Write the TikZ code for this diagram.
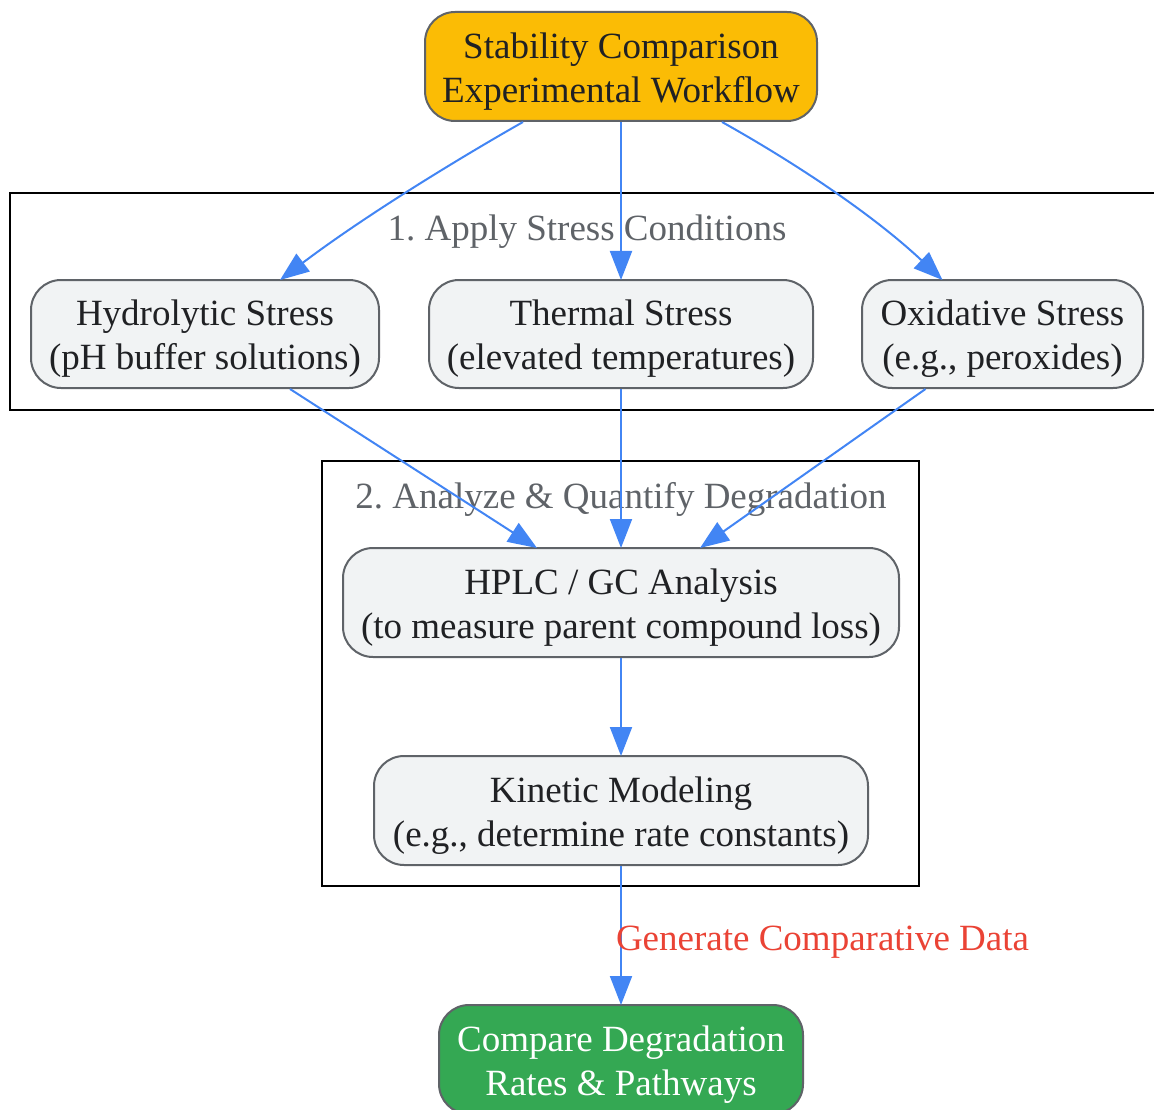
\documentclass[tikz,border=0pt]{standalone}
\usepackage{fontspec}
\setmainfont{Liberation Serif}
\usetikzlibrary{arrows.meta}
\definecolor{edgeblue}{HTML}{4285F4}
\definecolor{nodegray}{HTML}{F1F3F4}
\definecolor{bordergray}{HTML}{5F6368}
\definecolor{textdark}{HTML}{202124}
\definecolor{topyellow}{HTML}{FBBC05}
\definecolor{endgreen}{HTML}{34A853}
\definecolor{labelred}{HTML}{EA4335}
\tikzset{
  box/.style={draw=bordergray, line width=2pt, rounded corners=30pt, fill=nodegray,
    inner sep=0pt},
  boxtext/.style={text=textdark, align=center, inner sep=0pt, font=\fontsize{37}{44}\selectfont},
  cluster/.style={draw=black, line width=2.5pt},
  clabel/.style={text=bordergray, font=\fontsize{37}{44}\selectfont, inner sep=0pt},
  flow/.style={draw=edgeblue, line width=2pt, -{Triangle[length=29pt,width=22pt]}},
}
\begin{document}
\frenchspacing
\begin{tikzpicture}[x=1pt,y=-1pt]
\useasboundingbox (0,0) rectangle (1154,1110);
\clip (0,0) rectangle (1154,1110);
% clusters
\draw[cluster] (10,193) rectangle (1166,410);
\node[clabel] (c1) at (587,232) {1. Apply Stress Conditions};
\draw[cluster] (322,461) rectangle (919,886);
\node[clabel] (c2) at (621,499) {2. Analyze \& Quantify Degradation};
% nodes
\node[box, fill=topyellow, minimum width=392pt, minimum height=109pt] (top) at (621,66.5) {};
\node[boxtext] (topt) at ([yshift=-5pt]top.center) {Stability Comparison\\Experimental Workflow};
\node[box, minimum width=348pt, minimum height=108pt] (hyd) at (205,334) {};
\node[boxtext] (hydt) at ([yshift=-5pt]hyd.center) {Hydrolytic Stress\\(pH buffer solutions)};
\node[box, minimum width=384pt, minimum height=108pt] (the) at (621,334) {};
\node[boxtext] (thet) at ([yshift=-5pt]the.center) {Thermal Stress\\(elevated temperatures)};
\node[box, minimum width=281pt, minimum height=108pt] (oxi) at (1002.5,334) {};
\node[boxtext] (oxit) at ([yshift=-5pt]oxi.center) {Oxidative Stress\\(e.g., peroxides)};
\node[box, minimum width=556pt, minimum height=109pt] (hplc) at (621,602.5) {};
\node[boxtext] (hplct) at ([yshift=-5pt]hplc.center) {HPLC / GC Analysis\\(to measure parent compound loss)};
\node[box, minimum width=494pt, minimum height=109pt] (kin) at (621,810.5) {};
\node[boxtext] (kint) at ([yshift=-5pt]kin.center) {Kinetic Modeling\\(e.g., determine rate constants)};
\node[box, fill=endgreen, minimum width=364pt, minimum height=109pt] (cmp) at (621,1059.5) {};
\node[boxtext, text=white] (cmpt) at ([yshift=-5pt]cmp.center) {Compare Degradation\\Rates \& Pathways};
% edges
\draw[flow] ([xshift=-98pt]top.south) .. controls (470,152) and (370,212) .. ([xshift=75pt,yshift=-1pt]hyd.north);
\draw[flow] (top.south) -- ([yshift=-1pt]the.north);
\draw[flow] ([xshift=101pt]top.south) .. controls (790,160) and (870,212) .. ([xshift=-60pt,yshift=-1pt]oxi.north);
\draw[flow] ([xshift=85pt]hyd.south) -- ([xshift=-84pt,yshift=-1pt]hplc.north);
\draw[flow] (the.south) -- ([yshift=-1pt]hplc.north);
\draw[flow] ([xshift=-77pt]oxi.south) -- ([xshift=79pt,yshift=-1pt]hplc.north);
\draw[flow] (hplc.south) -- ([yshift=-1pt]kin.north);
\draw[flow] (kin.south) -- node[pos=0.55, right, xshift=-6pt, inner sep=0pt, text=labelred, font=\fontsize{37}{44}\selectfont] (lbl) {Generate Comparative Data} ([yshift=-1pt]cmp.north);
\end{tikzpicture}
\end{document}
